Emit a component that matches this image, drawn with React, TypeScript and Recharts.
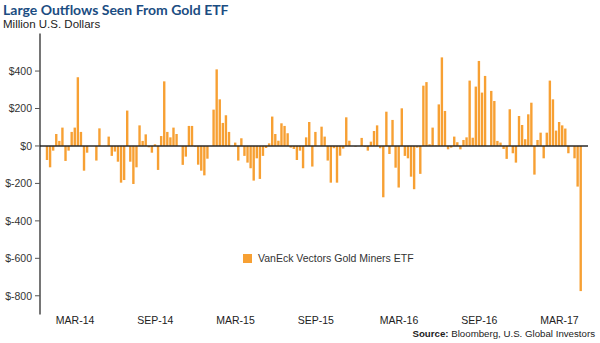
import { BarChart, Bar, XAxis, YAxis, ReferenceLine, Legend } from 'recharts';

// weekly net flows, million USD
const flows = [
  -75, -114, -25, 64, 27, 98, -80, -25, 75, 98,
  367, 75, -132, -36, 0, 0, -78, 94, 0, 0,
  50, -53, -30, -84, -196, -182, 189, -84, -203, -114,
  110, 27, 62, -7, -36, 9, -128, 53, 345, 75,
  46, 98, 64, 0, -101, -57, 107, 107, -4, -100,
  -132, -157, -68, 0, 194, 409, 249, 123,
  164, 75, 0, 18, -78, 41, -53, -89, -119, -185,
  -66, -176, -53, -11, 14, 157, 64, 28, 121, 107,
  68, -9, -16, -75, -25, -119, 46, 128, -110, 75,
  0, 103, 50, -78, -196, -12, -196, -52, -14, 153,
  28, 0, -4, 0, 43, -4, -25, 23, 80, 110,
  -12, -274, 183, -43, 139, -116, -222, 201, -53,
  -66, -164, -231, -9, -149, 322, 341, 9, 98, 3,
  222, 473, 187, -18, -9, 50, 20, -18, 32, 46,
  349, 44, 317, 454, 285, 374, 0, 294, 240, 27,
  18, -16, -69, 196, -39, -89, 160, 112, 36, 169,
  231, -153, 32, 71, -66, 71, 349, 249, 82, 128,
  110, 93, -39, 0, -66, -217, -775,
];

// one category per week, starting Fri 3 Jan 2014
const firstWeek = Date.UTC(2014, 0, 3);
const weeks = flows.map((_, i) => new Date(firstWeek + i * 7 * 86400000).toISOString().slice(0, 10));

const tickWeeks = ['2014-03-07', '2014-09-05', '2015-03-06', '2015-09-04', '2016-03-11', '2016-09-09', '2017-03-10'];
const tickLabels = ['MAR-14', 'SEP-14', 'MAR-15', 'SEP-15', 'MAR-16', 'SEP-16', 'MAR-17'];
const yTicks = [-800, -600, -400, -200, 0, 200, 400];

const data = weeks.map((week, i) => ({ week, flow: flows[i] }));

const ORANGE = '#F7A033';
const NARROW = "'Liberation Sans Narrow', 'Liberation Sans', Arial, sans-serif";

function LegendContent() {
  return (
    <div style={{ display: 'flex', alignItems: 'center', fontFamily: NARROW, fontSize: 10.5, color: '#333' }}>
      <span style={{ width: 9, height: 9, background: ORANGE, display: 'inline-block', marginRight: 6 }} />
      <span>VanEck Vectors Gold Miners ETF</span>
    </div>
  );
}

export default function App() {
  return (
    <div style={{ position: 'absolute', left: 0, top: 0, width: 600, height: 343, background: '#fff' }}>
      <div
        style={{
          position: 'absolute',
          left: 3,
          top: 2.6,
          fontFamily: 'Lato, sans-serif',
          fontWeight: 700,
          fontSize: 14,
          lineHeight: '14px',
          color: '#1b4d82',
          whiteSpace: 'nowrap',
        }}
      >
        Large Outflows Seen From Gold ETF
      </div>
      <div
        style={{
          position: 'absolute',
          left: 3,
          top: 19,
          fontFamily: "'Liberation Sans', Arial, sans-serif",
          fontSize: 11.5,
          lineHeight: '11.5px',
          color: '#222',
          whiteSpace: 'nowrap',
        }}
      >
        Million U.S. Dollars
      </div>

      <BarChart
        width={600}
        height={343}
        data={data}
        margin={{ top: 33.6, right: 12, bottom: 0, left: 0 }}
        style={{ position: 'absolute', left: 0, top: 0 }}
      >
        <XAxis
          dataKey="week"
          ticks={tickWeeks}
          interval={0}
          tickFormatter={(w: string) => tickLabels[tickWeeks.indexOf(w)]}
          axisLine={false}
          tickLine={false}
          tickSize={0}
          tickMargin={2}
          height={28.5}
          padding={{ left: 5.8, right: 5.4 }}
          tick={{ fill: '#222', fontSize: 10.5, fontFamily: NARROW }}
        />
        <YAxis
          domain={[-900, 600]}
          ticks={yTicks}
          width={40}
          tickFormatter={(v: number) => `$${v}`}
          axisLine={{ stroke: '#1a1a1a', strokeWidth: 1.2 }}
          tickLine={{ stroke: '#555' }}
          tickSize={5}
          tickMargin={3}
          tick={{ fill: '#333', fontSize: 10.5, fontFamily: NARROW }}
        />
        <Legend
          layout="horizontal"
          verticalAlign="middle"
          align="center"
          content={<LegendContent />}
          wrapperStyle={{ left: 243, top: 252, width: 'auto' }}
        />
        <Bar dataKey="flow" fill={ORANGE} barSize={2.4} isAnimationActive={false} />
        <ReferenceLine y={0} stroke="#2a2a2a" strokeWidth={1.6} />
      </BarChart>

      <div
        style={{
          position: 'absolute',
          right: 5,
          top: 328,
          fontFamily: "'Liberation Sans', Arial, sans-serif",
          fontSize: 9.7,
          lineHeight: '11px',
          color: '#222',
          whiteSpace: 'nowrap',
        }}
      >
        <b>Source:</b> Bloomberg, U.S. Global Investors
      </div>
    </div>
  );
}
